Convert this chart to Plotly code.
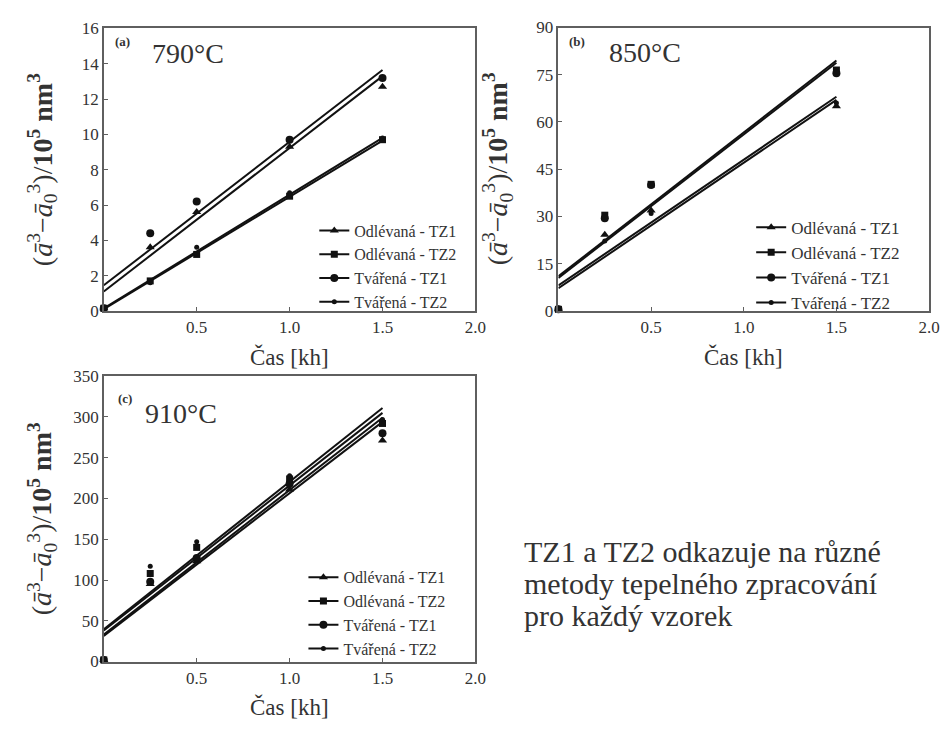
import plotly.graph_objects as go

# ---- data -------------------------------------------------------------
series_names = ["Odlévaná - TZ1", "Odlévaná - TZ2", "Tvářená - TZ1", "Tvářená - TZ2"]

# (a) 790 °C
times_a = [0.0, 0.25, 0.5, 1.0, 1.5]
a_odl_tz1 = [0.15, 3.6, 5.6, 9.3, 12.7]
a_odl_tz2 = [0.15, 1.7, 3.2, 6.5, 9.7]
a_tva_tz1 = [0.15, 4.4, 6.2, 9.7, 13.2]
a_tva_tz2 = [0.15, 1.6, 3.6, 6.7, 9.8]
# fitted lines: value at t = 0 and t = 1.5 kh
fit_times = [0.0, 1.5]
a_fit_odl_tz1 = [1.1, 13.3]
a_fit_odl_tz2 = [0.1, 9.65]
a_fit_tva_tz1 = [1.45, 13.65]
a_fit_tva_tz2 = [0.15, 9.8]

# (b) 850 °C
times_b = [0.0, 0.25, 0.5, 1.5]
b_odl_tz1 = [0.5, 24.2, 31.9, 65.0]
b_odl_tz2 = [0.5, 30.4, 40.2, 76.5]
b_tva_tz1 = [0.5, 29.4, 40.0, 75.5]
b_tva_tz2 = [0.5, 22.2, 30.9, 66.0]
b_fit_odl_tz1 = [8.1, 68.0]
b_fit_odl_tz2 = [11.0, 79.5]
b_fit_tva_tz1 = [10.5, 78.8]
b_fit_tva_tz2 = [7.2, 67.0]

# (c) 910 °C
times_c = [0.0, 0.25, 0.5, 1.0, 1.5]
c_odl_tz1 = [2, 95, 123, 211, 271]
c_odl_tz2 = [2, 108, 140, 224, 292]
c_tva_tz1 = [2, 98, 127, 218, 280]
c_tva_tz2 = [2, 117, 147, 228, 297]
c_fit_odl_tz1 = [31.5, 294]
c_fit_odl_tz2 = [38, 305]
c_fit_tva_tz1 = [33, 299]
c_fit_tva_tz2 = [39.5, 311]

y_ticks_a = [0, 2, 4, 6, 8, 10, 12, 14, 16]
y_ticks_b = [0, 15, 30, 45, 60, 75, 90]
y_ticks_c = [0, 50, 100, 150, 200, 250, 300, 350]
x_ticks = [0, 0.5, 1.0, 1.5, 2.0]
x_tick_text = ["", "0.5", "1.0", "1.5", "2.0"]

panel_tags = ["(a)", "(b)", "(c)"]
temperatures = ["790°C", "850°C", "910°C"]

# ---- style ------------------------------------------------------------
W, H = 947, 729
SERIF = "Times New Roman, Liberation Serif, serif"
INK = "#111111"
TEXT = "#333333"
FRAME = "#5f5f5f"

symbols = ["triangle-up", "square", "circle", "circle"]
sizes = [8, 7, 8, 5]


def px_x(p):
    return p / W


def px_y(p):
    return 1 - p / H


panels = [
    dict(times=times_a, data=[a_odl_tz1, a_odl_tz2, a_tva_tz1, a_tva_tz2],
         fits=[a_fit_odl_tz1, a_fit_odl_tz2, a_fit_tva_tz1, a_fit_tva_tz2],
         yt=y_ticks_a, box=(105, 481, 20, 310), legend="legend",
         leg=(318, 210), legfont=16, tag=(124, 33), temp=(190, 46)),
    dict(times=times_b, data=[b_odl_tz1, b_odl_tz2, b_tva_tz1, b_tva_tz2],
         fits=[b_fit_odl_tz1, b_fit_odl_tz2, b_fit_tva_tz1, b_fit_tva_tz2],
         yt=y_ticks_b, box=(565, 940, 19, 310), legend="legend2",
         leg=(760, 206), legfont=17, tag=(584, 33), temp=(653, 45)),
    dict(times=times_c, data=[c_odl_tz1, c_odl_tz2, c_tva_tz1, c_tva_tz2],
         fits=[c_fit_odl_tz1, c_fit_odl_tz2, c_fit_tva_tz1, c_fit_tva_tz2],
         yt=y_ticks_c, box=(105, 481, 377, 670), legend="legend3",
         leg=(307, 566), legfont=16, tag=(126, 400), temp=(183, 415)),
]

fig = go.Figure()
annotations = []
y_title = ("(<i>ā</i><sup>3</sup>−<i>ā</i><sub>0</sub><sup>3</sup>)/"
           "<b>10<sup>5</sup> nm<sup>3</sup></b>")


def label(x, y, text, size, **kw):
    d = dict(x=px_x(x), y=px_y(y), text=text, showarrow=False,
             xref="paper", yref="paper", xanchor="center", yanchor="middle",
             font=dict(family=SERIF, size=size, color=TEXT))
    d.update(kw)
    return d


for i, p in enumerate(panels):
    sfx = "" if i == 0 else str(i + 1)
    xa, ya = "x" + sfx, "y" + sfx
    # fitted lines
    for k in range(4):
        fig.add_trace(go.Scatter(
            x=fit_times, y=p["fits"][k], mode="lines", xaxis=xa, yaxis=ya,
            line=dict(color=INK, width=2), showlegend=False, hoverinfo="skip"))
    # measured points
    for k in range(4):
        fig.add_trace(go.Scatter(
            x=p["times"], y=p["data"][k], mode="markers", xaxis=xa, yaxis=ya,
            marker=dict(symbol=symbols[k], size=sizes[k], color=INK),
            cliponaxis=False, showlegend=False, name=series_names[k]))
    # legend entries (marker + line)
    for k in range(4):
        fig.add_trace(go.Scatter(
            x=[None], y=[None], mode="lines+markers", xaxis=xa, yaxis=ya,
            name=series_names[k], legend=p["legend"],
            marker=dict(symbol=symbols[k], size=sizes[k], color=INK),
            line=dict(color=INK, width=2)))

    x0, x1, y0, y1 = p["box"]
    axis_common = dict(showline=True, linecolor=FRAME, linewidth=1.5, mirror=True,
                       ticks="inside", ticklen=4, tickcolor=FRAME, tickwidth=1,
                       showgrid=False, zeroline=False,
                       tickfont=dict(family=SERIF, size=17, color=TEXT))
    fig.layout["xaxis" + sfx] = dict(
        domain=[px_x(x0), px_x(x1)], anchor=ya, range=[0, 2],
        tickvals=x_ticks, ticktext=x_tick_text, **axis_common)
    fig.layout["yaxis" + sfx] = dict(
        domain=[px_y(y1), px_y(y0)], anchor=xa, range=[0, p["yt"][-1]],
        tickvals=p["yt"], **axis_common)

    lx, ly = p["leg"]
    fig.layout[p["legend"]] = dict(
        x=px_x(lx), y=px_y(ly), xanchor="left", yanchor="top",
        xref="paper", yref="paper", bgcolor="rgba(0,0,0,0)",
        font=dict(family=SERIF, size=p["legfont"], color=TEXT),
        tracegroupgap=0, itemwidth=30)

    # panel tag and temperature
    annotations.append(label(p["tag"][0], p["tag"][1], "<b>" + panel_tags[i] + "</b>", 13))
    annotations.append(label(p["temp"][0], p["temp"][1], temperatures[i], 28))
    # axis titles
    annotations.append(label(x0 - 62, (y0 + y1) / 2, y_title, 28, textangle=-90))
    annotations.append(label((x0 + x1) / 2, y1 + 47, "Čas [kh]", 23))

# note about heat-treatment labels
note_lines = ["TZ1 a TZ2 odkazuje na různé", "metody tepelného zpracování", "pro každý vzorek"]
note_y = [557, 590, 623]
for line, yy in zip(note_lines, note_y):
    annotations.append(label(528, yy, line, 30, xanchor="left"))

fig.update_layout(
    width=W, height=H, margin=dict(l=0, r=0, t=0, b=0),
    paper_bgcolor="white", plot_bgcolor="white",
    font=dict(family=SERIF, color=TEXT),
    annotations=annotations)

fig.write_html("out.html")
